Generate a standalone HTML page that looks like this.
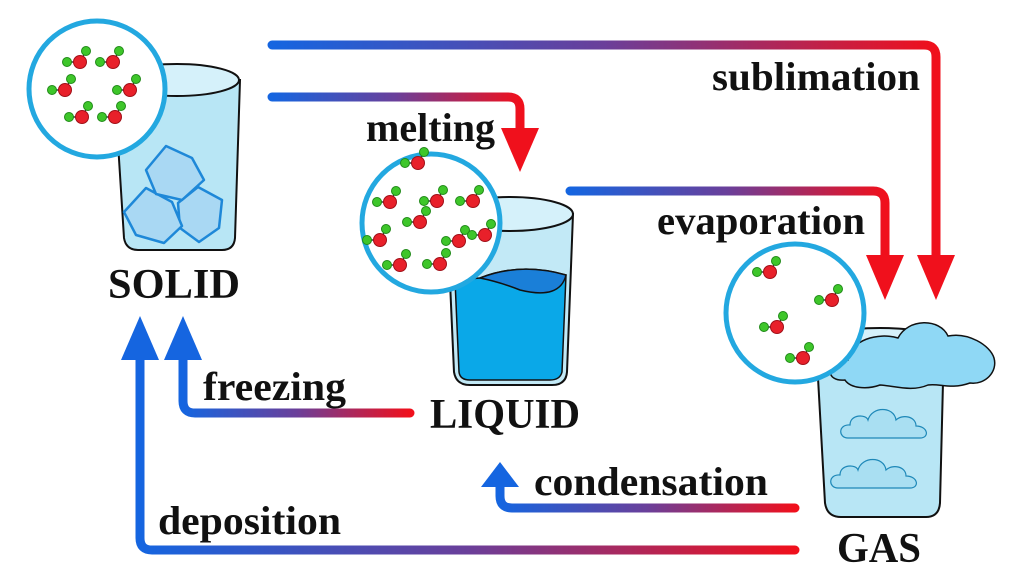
<!DOCTYPE html>
<html><head><meta charset="utf-8"><style>
html,body{margin:0;padding:0;background:#fff;width:1024px;height:578px;overflow:hidden}
text{font-family:"Liberation Serif",serif;font-weight:bold;fill:#111}
</style></head><body>
<svg width="1024" height="578" viewBox="0 0 1024 578" xmlns="http://www.w3.org/2000/svg">
<defs>
<linearGradient id="br" x1="0" x2="1" y1="0" y2="0"><stop offset="0" stop-color="#1565e0"/><stop offset="0.5" stop-color="#6a3f9a"/><stop offset="1" stop-color="#f0101c"/></linearGradient>
<linearGradient id="br2" gradientUnits="userSpaceOnUse" x1="183" x2="410" y1="0" y2="0"><stop offset="0" stop-color="#1565e0"/><stop offset="0.5" stop-color="#6a3f9a"/><stop offset="1" stop-color="#f0101c"/></linearGradient>
<linearGradient id="br3" gradientUnits="userSpaceOnUse" x1="500" x2="795" y1="0" y2="0"><stop offset="0" stop-color="#1565e0"/><stop offset="0.5" stop-color="#6a3f9a"/><stop offset="1" stop-color="#f0101c"/></linearGradient>
<linearGradient id="br4" gradientUnits="userSpaceOnUse" x1="140" x2="795" y1="0" y2="0"><stop offset="0" stop-color="#1565e0"/><stop offset="0.5" stop-color="#6a3f9a"/><stop offset="1" stop-color="#f0101c"/></linearGradient>
<g id="m"><line x1="0" y1="0" x2="-13" y2="0" stroke="#333" stroke-width="1.5"/><line x1="0" y1="0" x2="6" y2="-11" stroke="#333" stroke-width="1.5"/><circle r="6.5" fill="#e8202a" stroke="#a01018" stroke-width="1"/><circle cx="-13" cy="0" r="4.5" fill="#3ec62a" stroke="#208a18" stroke-width="1"/><circle cx="6" cy="-11" r="4.5" fill="#3ec62a" stroke="#208a18" stroke-width="1"/></g>
<g id="cl"><path d="M-40 10 C-50 10 -50 -4 -38 -3 C-38 -14 -22 -14 -20 -8 C-16 -22 6 -22 8 -8 C14 -14 28 -12 28 -2 C40 -2 42 10 32 10 Z" fill="#a9dff2" stroke="#1e88b8" stroke-width="1.2"/></g>
</defs>

<g fill="none" stroke-width="9" stroke-linecap="round" stroke-linejoin="round">
<path d="M272 45 H924 Q936 45 936 57 V262" stroke="url(#br)"/>
<path d="M272 97 H508 Q520 97 520 109 V135" stroke="url(#br)"/>
<path d="M570 191 H873 Q885 191 885 203 V262" stroke="url(#br)"/>
<path d="M410 413 H195 Q183 413 183 401 V352" stroke="url(#br2)"/>
<path d="M795 508 H512 Q500 508 500 496 V480" stroke="url(#br3)"/>
<path d="M795 550 H152 Q140 550 140 538 V352" stroke="url(#br4)"/>
</g>
<g fill="#f0101c">
<polygon points="917,255 955,255 936,300"/>
<polygon points="501,128 539,128 520,172"/>
<polygon points="866,255 904,255 885,300"/>
</g>
<g fill="#1565e0">
<polygon points="164,360 202,360 183,316"/>
<polygon points="481,487 519,487 500,462"/>
<polygon points="121,360 159,360 140,316"/>
</g>

<g font-size="40">
<text x="712" y="90" textLength="208" lengthAdjust="spacingAndGlyphs">sublimation</text>
<text x="366" y="141" textLength="129" lengthAdjust="spacingAndGlyphs">melting</text>
<text x="657" y="234" textLength="208" lengthAdjust="spacingAndGlyphs">evaporation</text>
<text x="203" y="400" textLength="143" lengthAdjust="spacingAndGlyphs">freezing</text>
<text x="534" y="495" textLength="234" lengthAdjust="spacingAndGlyphs">condensation</text>
<text x="158" y="534" textLength="183" lengthAdjust="spacingAndGlyphs">deposition</text>
</g>
<g font-size="42">
<text x="108" y="298" textLength="132" lengthAdjust="spacingAndGlyphs">SOLID</text>
<text x="430" y="428" textLength="150" lengthAdjust="spacingAndGlyphs">LIQUID</text>
<text x="837" y="562" textLength="84" lengthAdjust="spacingAndGlyphs">GAS</text>
</g>

<!-- solid glass -->
<path d="M114 80 L124 238 Q126 250 138 250 L222 250 Q234 250 235 238 L240 80 Z" fill="#b8e6f5" stroke="#111" stroke-width="2"/>
<ellipse cx="177" cy="80" rx="62" ry="16" fill="#d5f1fa" stroke="#111" stroke-width="2"/>
<g fill="#a9d8f3" stroke="#1e88d8" stroke-width="2.5" stroke-linejoin="round">
<path d="M178 203 L198 187 L222 200 L219 228 L199 242 L180 228 Z"/>
<path d="M124 212 L146 188 L172 202 L182 226 L164 243 L136 235 Z"/>
<path d="M146 170 L166 146 L192 158 L204 180 L182 200 L156 194 Z"/>
</g>
<circle cx="97" cy="89" r="68" fill="#fff" stroke="#23a8e0" stroke-width="5"/>
<use href="#m" x="80" y="62"/><use href="#m" x="113" y="62"/>
<use href="#m" x="65" y="90"/><use href="#m" x="130" y="90"/>
<use href="#m" x="82" y="117"/><use href="#m" x="115" y="117"/>

<!-- liquid glass -->
<path d="M447 214 L454 372 Q456 385 470 385 L552 385 Q566 385 567 372 L573 214 Z" fill="#c2e9f6" stroke="#111" stroke-width="2"/>
<path d="M480 278 Q520 262 566 275 L562 372 Q560 380 550 380 L470 380 Q460 380 459 372 L455 280 Z" fill="#0aa8e8" stroke="#111" stroke-width="1.5"/>
<path d="M480 278 Q520 262 566 275 Q560 300 520 290 Q500 282 480 278 Z" fill="#1a7fd8" stroke="#111" stroke-width="1.5"/>
<ellipse cx="510" cy="214" rx="63" ry="17" fill="#d5f1fa" stroke="#111" stroke-width="2"/>
<circle cx="431" cy="223" r="69" fill="#fff" stroke="#23a8e0" stroke-width="5"/>
<use href="#m" x="418" y="163"/><use href="#m" x="390" y="202"/><use href="#m" x="437" y="201"/>
<use href="#m" x="473" y="201"/><use href="#m" x="420" y="222"/><use href="#m" x="459" y="241"/>
<use href="#m" x="380" y="240"/><use href="#m" x="400" y="265"/><use href="#m" x="440" y="264"/>
<use href="#m" x="485" y="235"/>

<!-- gas glass -->
<path d="M816 342 L825 503 Q827 517 841 517 L926 517 Q939 517 940 503 L944 342 Z" fill="#b8e6f5" stroke="#111" stroke-width="2"/>
<ellipse cx="880" cy="342" rx="64" ry="14" fill="#d5f1fa" stroke="#111" stroke-width="2"/>
<use href="#cl" x="888" y="428"/><use href="#cl" x="878" y="478"/>
<path d="M845 380 C825 382 825 362 848 360 C850 340 878 332 898 338 C908 318 940 318 948 336 C968 332 990 345 994 358 C998 372 985 385 970 383 C950 390 940 383 928 385 C912 392 895 386 880 385 C866 390 850 388 845 380 Z" fill="#8fd8f5" stroke="#111" stroke-width="1.5"/>
<circle cx="795" cy="313" r="69" fill="#fff" stroke="#23a8e0" stroke-width="5"/>
<use href="#m" x="770" y="272"/><use href="#m" x="832" y="300"/>
<use href="#m" x="777" y="327"/><use href="#m" x="803" y="358"/>
</svg>
</body></html>
